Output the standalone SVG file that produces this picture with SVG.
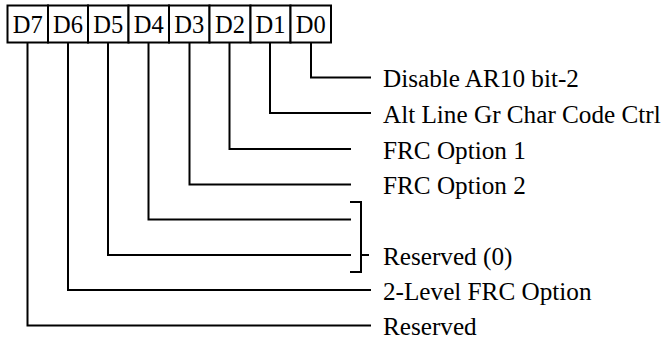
<svg xmlns="http://www.w3.org/2000/svg" width="664" height="339" viewBox="0 0 664 339">
<style>
.ln{fill:none;stroke:#000;stroke-width:2;stroke-linecap:square}
.bx{fill:#fff;stroke:#000;stroke-width:2}
.bt{font-family:"Liberation Serif","Times New Roman",serif;font-size:24.5px;fill:#000;text-anchor:middle}
.lb{font-family:"Liberation Serif","Times New Roman",serif;font-size:25.2px;fill:#000}
</style>
<rect width="664" height="339" fill="#fff"/>
<g id="register">
<g id="bit-D7"><rect class="bx" x="7.5" y="5.5" width="40.5" height="37"/><text class="bt" x="27.75" y="33">D7</text></g>
<g id="bit-D6"><rect class="bx" x="48" y="5.5" width="40" height="37"/><text class="bt" x="68" y="33">D6</text></g>
<g id="bit-D5"><rect class="bx" x="88" y="5.5" width="40.5" height="37"/><text class="bt" x="108.25" y="33">D5</text></g>
<g id="bit-D4"><rect class="bx" x="128.5" y="5.5" width="40.5" height="37"/><text class="bt" x="148.75" y="33">D4</text></g>
<g id="bit-D3"><rect class="bx" x="169" y="5.5" width="40.5" height="37"/><text class="bt" x="189.25" y="33">D3</text></g>
<g id="bit-D2"><rect class="bx" x="209.5" y="5.5" width="41" height="37"/><text class="bt" x="230" y="33">D2</text></g>
<g id="bit-D1"><rect class="bx" x="250.5" y="5.5" width="40" height="37"/><text class="bt" x="270.5" y="33">D1</text></g>
<g id="bit-D0"><rect class="bx" x="290.5" y="5.5" width="40.5" height="37"/><text class="bt" x="310.75" y="33">D0</text></g>
</g>
<g id="connectors">
<polyline class="ln" points="311,43 311,77.5 370,77.5"/>
<polyline class="ln" points="270,43 270,113 370,113"/>
<polyline class="ln" points="229.5,43 229.5,149 350,149"/>
<polyline class="ln" points="189.5,43 189.5,184.5 350,184.5"/>
<polyline class="ln" points="148.5,43 148.5,219.5 350,219.5"/>
<polyline class="ln" points="108,43 108,255 350,255"/>
<polyline class="ln" points="68,43 68,290 370,290"/>
<polyline class="ln" points="27.5,43 27.5,325.5 370,325.5"/>
<polyline class="ln" points="351,202 361,202 361,272 351,272"/>
<line class="ln" x1="361" y1="255" x2="368" y2="255"/>
</g>
<g id="labels">
<text class="lb" x="383" y="86.5">Disable AR10 bit-2</text>
<text class="lb" x="383" y="122.5">Alt Line Gr Char Code Ctrl</text>
<text class="lb" x="383" y="158.5">FRC Option 1</text>
<text class="lb" x="383" y="194">FRC Option 2</text>
<text class="lb" x="383" y="264.5">Reserved (0)</text>
<text class="lb" x="383" y="299.5">2-Level FRC Option</text>
<text class="lb" x="383" y="335">Reserved</text>
</g>
</svg>
